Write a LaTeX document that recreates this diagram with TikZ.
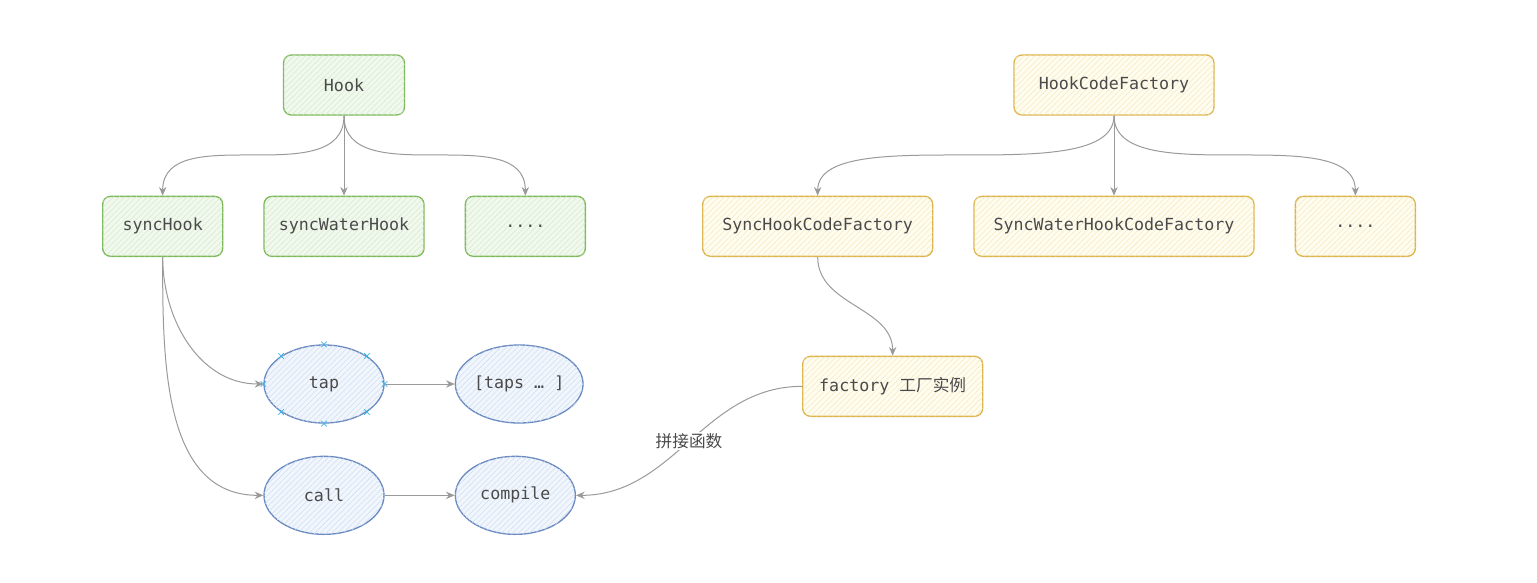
\documentclass[tikz,border=0pt]{standalone}
\usepackage{fontspec}
\setmonofont{DejaVu Sans Mono}
\newfontfamily\cjk{Noto Sans CJK SC}
\usetikzlibrary{arrows.meta,positioning,shapes.geometric,shapes.misc,patterns.meta}

\definecolor{textgray}{HTML}{4A4A4A}
\definecolor{edgegray}{HTML}{9A9A9A}
\definecolor{hookgreen}{HTML}{7CB95A}
\definecolor{greenfill}{HTML}{F1F8ED}
\definecolor{greenhatch}{HTML}{D6EBCD}
\definecolor{factoryyellow}{HTML}{DCB44C}
\definecolor{yellowfill}{HTML}{FFFCF0}
\definecolor{yellowhatch}{HTML}{F6E9C0}
\definecolor{methodblue}{HTML}{6A8AC0}
\definecolor{bluefill}{HTML}{F1F6FD}
\definecolor{bluehatch}{HTML}{CFDEF3}
\definecolor{selcyan}{HTML}{3DB3EA}

\tikzset{
  hatch/.style={postaction={pattern={Lines[angle=45,distance=3pt,line width=0.4pt]}, pattern color=#1}},
  base/.style={font=\ttfamily\fontsize{12.5}{15}\selectfont, text=textgray, line width=1pt, inner sep=0pt, minimum height=45pt},
  hookbox/.style={base, rectangle, rounded corners=6pt, draw=hookgreen, fill=greenfill, hatch=greenhatch, minimum width=#1},
  factorybox/.style={base, rectangle, rounded corners=6pt, draw=factoryyellow, fill=yellowfill, hatch=yellowhatch, minimum width=#1},
  method/.style={base, ellipse, draw=methodblue, fill=bluefill, hatch=bluehatch, minimum width=90pt, minimum height=58.5pt},
  edge/.style={draw=edgegray, line width=0.75pt, -{Stealth[length=6.5pt,width=5.5pt]}},
  tree/.style={edge, to path={.. controls +(0,-58pt) and +(0,58pt) .. (\tikztotarget)}},
  edgelabel/.style={fill=white, text=textgray, font=\cjk\fontsize{12.5}{15}\selectfont, inner sep=1pt},
  selmark/.style={cross out, draw=selcyan, line width=0.6pt, minimum size=3.5pt, inner sep=0pt}
}

\begin{document}
\begin{tikzpicture}
\useasboundingbox (0,0) rectangle (1152.75pt,-436.5pt);

          % nodes
          \node[hookbox=90.75pt] (hook) at (258pt,-63.75pt) {Hook};
          \node[hookbox=120pt, below=60pt of hook] (sync_water_hook) {syncWaterHook};
          \node[hookbox=90pt, left=30pt of sync_water_hook] (sync_hook) {syncHook};
          \node[hookbox=90pt, right=30pt of sync_water_hook] (hook_more) {....};

          \node[factorybox=150pt] (hook_code_factory) at (835.5pt,-63.75pt) {HookCodeFactory};
          \node[factorybox=210pt, below=60pt of hook_code_factory] (sync_water_factory) {SyncWaterHookCodeFactory};
          \node[factorybox=172.5pt, left=30pt of sync_water_factory] (sync_factory) {SyncHookCodeFactory};
          \node[factorybox=90pt, right=30pt of sync_water_factory] (factory_more) {....};
          \node[factorybox=135pt, below=74pt of sync_factory, xshift=56.25pt] (factory) {factory {\cjk 工厂实例}};

          \node[method] (tap) at (243pt,-288pt) {tap};
          \node[method, right=52.5pt of tap] (taps) {[taps \ldots\ ]};
          \node[method, below=24pt of tap] (call) {call};
          \node[method, right=52.5pt of call] (compile) {compile};

          % selection marks
          \foreach \a in {north,south,east,west,north east,north west,south east,south west}
            \node[selmark] at (tap.\a) {};

          % edges
          \draw[edge] (hook.south) -- (sync_water_hook.north);
          \draw[tree] (hook.south) to (sync_hook.north);
          \draw[tree] (hook.south) to (hook_more.north);

          \draw[edge] (hook_code_factory.south) -- (sync_water_factory.north);
          \draw[tree] (hook_code_factory.south) to (sync_factory.north);
          \draw[tree] (hook_code_factory.south) to (factory_more.north);
          \draw[edge] (sync_factory.south) to[out=-90,in=90] (factory.north);

          \draw[edge] (sync_hook.south) to[out=-90,in=180] (tap.west);
          \draw[edge] (sync_hook.south) to[out=-90,in=180] (call.west);
          \draw[edge] (tap.east) -- (taps.west);
          \draw[edge] (call.east) -- (compile.west);
          \draw[edge] (factory.west) to[out=180,in=0] node[edgelabel] {拼接函数} (compile.east);

\end{tikzpicture}
\end{document}
